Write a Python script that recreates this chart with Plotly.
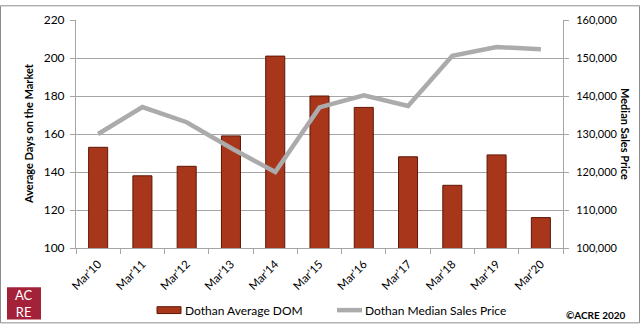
import plotly.graph_objects as go

categories = ["Mar'10", "Mar'11", "Mar'12", "Mar'13", "Mar'14", "Mar'15",
              "Mar'16", "Mar'17", "Mar'18", "Mar'19", "Mar'20"]
avg_dom = [153, 138, 143, 159, 201, 180, 174, 148, 133, 149, 116]
median_price = [130000, 137100, 133100, 126300, 120000, 137000,
                140200, 137400, 150600, 152900, 152300]
left_ticks = [100, 120, 140, 160, 180, 200, 220]
right_ticks = [100000, 110000, 120000, 130000, 140000, 150000, 160000]

W, H = 640, 325
L, R, T, B = 76, 77, 15, 77
PW, PH = W - L - R, H - T - B

def px(x):
    return (x - L) / PW

def py(y):
    return (H - B - y) / PH

FONT = "Lato, 'Open Sans', sans-serif"
GRID = "#A6A6A6"

fig = go.Figure()
fig.add_trace(go.Bar(
    x=categories, y=avg_dom, name="Dothan Average DOM",
    marker=dict(color="#A8361B", line=dict(color="#5E1707", width=1)),
    width=0.43, yaxis="y", base=0,
))
fig.add_trace(go.Scatter(
    x=categories, y=median_price, name="Dothan Median Sales Price",
    mode="lines", line=dict(color="#ABABAB", width=4.5), yaxis="y2",
))

shapes = [
    # outer border
    dict(type="rect", xref="paper", yref="paper",
         x0=px(0.5), x1=px(639.5), y0=py(324.5), y1=py(0.5),
         line=dict(color="#8C8C8C", width=1), fillcolor="rgba(0,0,0,0)", layer="below"),
    # legend symbols
    dict(type="rect", xref="paper", yref="paper",
         x0=px(157), x1=px(181), y0=py(315), y1=py(308),
         line=dict(color="#5E1707", width=1), fillcolor="#A8361B"),
    dict(type="line", xref="paper", yref="paper",
         x0=px(337), x1=px(362), y0=py(311.5), y1=py(311.5),
         line=dict(color="#ABABAB", width=4.5)),
    # logo
    dict(type="rect", xref="paper", yref="paper",
         x0=px(7), x1=px(41), y0=py(321), y1=py(288),
         line=dict(width=0), fillcolor="#A3223A"),
]

annotations = [
    dict(text="<b>Average Days on the Market</b>", xref="paper", yref="paper",
         x=px(28), y=py(131.5), textangle=-90, showarrow=False,
         font=dict(family=FONT, size=11, color="#000"), xanchor="center", yanchor="middle"),
    dict(text="<b>Median Sales Price</b>", xref="paper", yref="paper",
         x=px(626), y=py(131.5), textangle=90, showarrow=False,
         font=dict(family=FONT, size=11, color="#000"), xanchor="center", yanchor="middle"),
    dict(text="Dothan Average DOM", xref="paper", yref="paper",
         x=px(183), y=py(311.5), showarrow=False, xanchor="left", yanchor="middle",
         font=dict(family=FONT, size=12, color="#000")),
    dict(text="Dothan Median Sales Price", xref="paper", yref="paper",
         x=px(363), y=py(311.5), showarrow=False, xanchor="left", yanchor="middle",
         font=dict(family=FONT, size=12, color="#000")),
    dict(text="<b>©ACRE 2020</b>", xref="paper", yref="paper",
         x=px(628), y=py(316.5), showarrow=False, xanchor="right", yanchor="middle",
         font=dict(family=FONT, size=10, color="#000")),
    dict(text="AC<br>RE", xref="paper", yref="paper",
         x=px(24), y=py(304.5), showarrow=False, xanchor="center", yanchor="middle",
         font=dict(family=FONT, size=13, color="#FFFFFF"), align="center",
         borderpad=0),
]

fig.update_layout(
    width=W, height=H,
    margin=dict(l=L, r=R, t=T, b=B, pad=0),
    paper_bgcolor="white", plot_bgcolor="white",
    showlegend=False,
    bargap=0.5,
    font=dict(family=FONT, size=12, color="#000"),
    xaxis=dict(
        type="category", tickangle=-45, tickson="boundaries",
        ticks="outside", ticklen=5, tickcolor=GRID,
        showline=True, linecolor=GRID, linewidth=1,
        showgrid=False, tickfont=dict(family=FONT, size=11.5),
        ticklabelstandoff=4,
        range=[-0.5, 10.5],
    ),
    yaxis=dict(
        range=[100, 220], tickvals=left_ticks,
        showgrid=True, gridcolor=GRID, gridwidth=1,
        showline=True, linecolor=GRID, linewidth=1,
        ticks="outside", ticklen=5, tickcolor=GRID,
        zeroline=False, tickfont=dict(family=FONT, size=12),
        ticklabelstandoff=3,
    ),
    yaxis2=dict(
        range=[100000, 160000], tickvals=right_ticks,
        tickformat=",d", overlaying="y", side="right",
        showgrid=False, showline=True, linecolor=GRID, linewidth=1,
        ticks="outside", ticklen=5, tickcolor=GRID,
        zeroline=False, tickfont=dict(family=FONT, size=11),
        ticklabelstandoff=5,
    ),
    shapes=shapes,
    annotations=annotations,
)

fig.write_html("out.html")
